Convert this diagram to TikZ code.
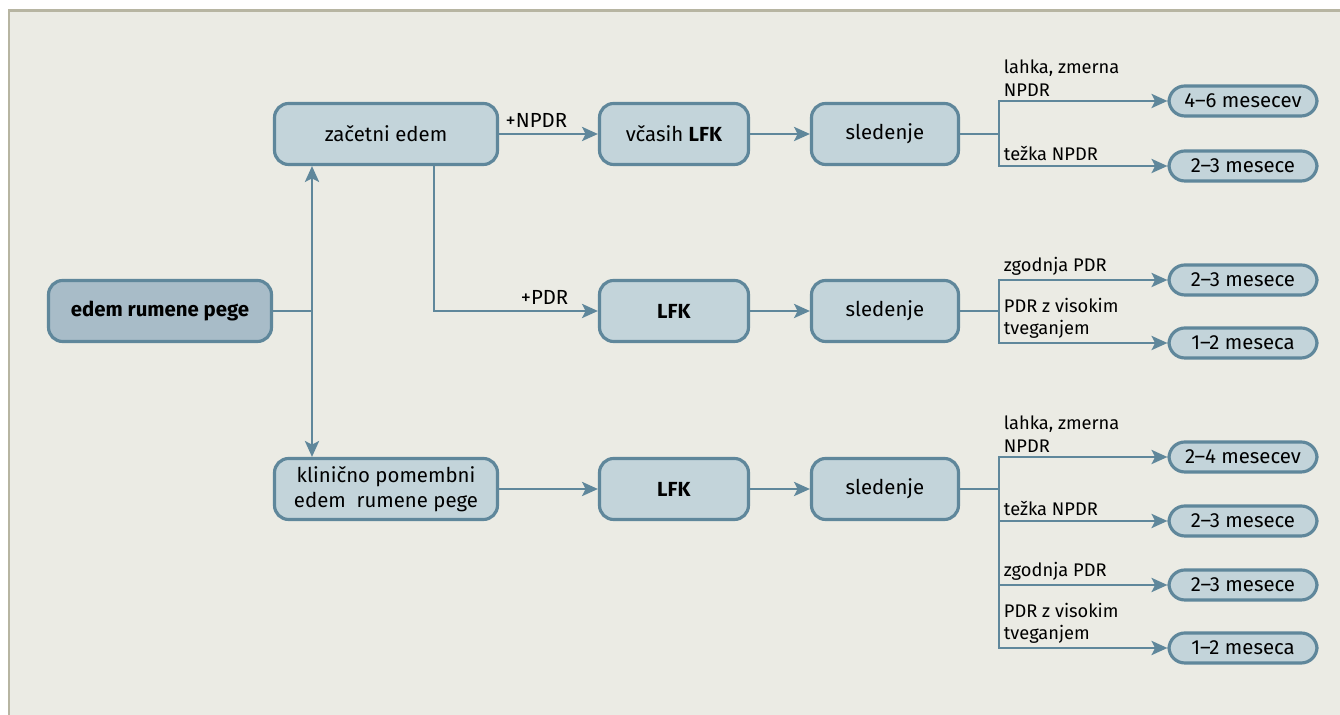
\documentclass[tikz,border=0pt]{standalone}
\usepackage{fontspec}
\setmainfont{Fira Sans}
\usepackage{tikz}
\usetikzlibrary{arrows.meta,calc}
\definecolor{bg}{HTML}{EBEBE4}
\definecolor{framec}{HTML}{B7B5A2}
\definecolor{boxfill}{HTML}{C3D4DA}
\definecolor{rootfill}{HTML}{A8BCC8}
\definecolor{edge}{HTML}{5F879B}
\tikzset{box/.style={draw=edge,fill=boxfill,line width=1.8pt,rounded corners=8pt,minimum height=1.22cm,align=center,font=\fontsize{11.6}{14}\selectfont}}
\tikzset{pill/.style={box,rounded corners=9pt,minimum height=0.6cm,minimum width=2.96cm}}
\tikzset{line/.style={draw=edge,line width=1.6pt}}
\tikzset{link/.style={line,-{Stealth[length=9pt,width=8pt,inset=2pt]}}}
\tikzset{branchlbl/.style={above right,inner sep=2pt,align=left,font=\fontsize{10.4}{12.6}\selectfont}}

\begin{document}
\begin{tikzpicture}[x=0.02cm,y=-0.02cm]
  \useasboundingbox (0,0) rectangle (1340,715);
  \fill[bg] (8,10) rectangle (1340,715);
  \draw[framec,line width=1.3pt] (9,715) -- (9,10.5) -- (1340,10.5);
  % left part
  \node[box,fill=rootfill,minimum width=4.46cm,font=\fontsize{11.6}{14}\selectfont\bfseries] (root) at (160,311) {edem rumene pege};
  \node[box,minimum width=4.46cm] (zac) at (386,134) {začetni edem};
  \node[box,minimum width=4.46cm] (kli) at (386,489) {klinično pomembni\\edem~ rumene pege};
  \coordinate (split) at (312,311);
  \draw[line] (root) -- (split);
  \draw[link] (split) -- (split |- zac.south);
  \draw[link] (split) -- (split |- kli.north);
  % middle column
  \foreach \i/\y/\t in {1/134/{včasih \textbf{LFK}},2/311/\textbf{LFK},3/489/\textbf{LFK}}{
    \node[box,minimum width=2.98cm] (lfk\i) at (674,\y) {\t};
    \node[box,minimum width=2.94cm] (sl\i) at (885,\y) {sledenje};
    \draw[link] (lfk\i) -- (sl\i);
    \coordinate (f\i) at (999,\y);
    \draw[line] (sl\i) -- (f\i);
  }
  \draw[link] (zac) -- (lfk1) node[pos=0,above right,inner sep=3pt,font=\fontsize{11.6}{14}\selectfont] {+NPDR};
  \draw[link] ([xshift=0.96cm]zac.south) |- (lfk2) node[pos=0.93,above left,inner sep=3pt,font=\fontsize{11.6}{14}\selectfont] {+PDR};
  \draw[link] (kli) -- (lfk3);
  % right column
  \foreach \n/\f/\y/\t/\l in {
      1/1/101/{4--6 mesecev}/{lahka, zmerna\\NPDR},
      2/1/166/{2--3 mesece}/{težka NPDR},
      3/2/280/{2--3 mesece}/{zgodnja PDR},
      4/2/343/{1--2 meseca}/{PDR z visokim\\tveganjem},
      5/3/457/{2--4 mesecev}/{lahka, zmerna\\NPDR},
      6/3/521/{2--3 mesece}/{težka NPDR},
      7/3/585/{2--3 mesece}/{zgodnja PDR},
      8/3/648/{1--2 meseca}/{PDR z visokim\\tveganjem}}{
    \node[pill] (m\n) at (1243,\y) {\t};
    \draw[link] (f\f) |- (m\n) node[pos=0.5,branchlbl] {\l};
  }
\end{tikzpicture}
\end{document}
